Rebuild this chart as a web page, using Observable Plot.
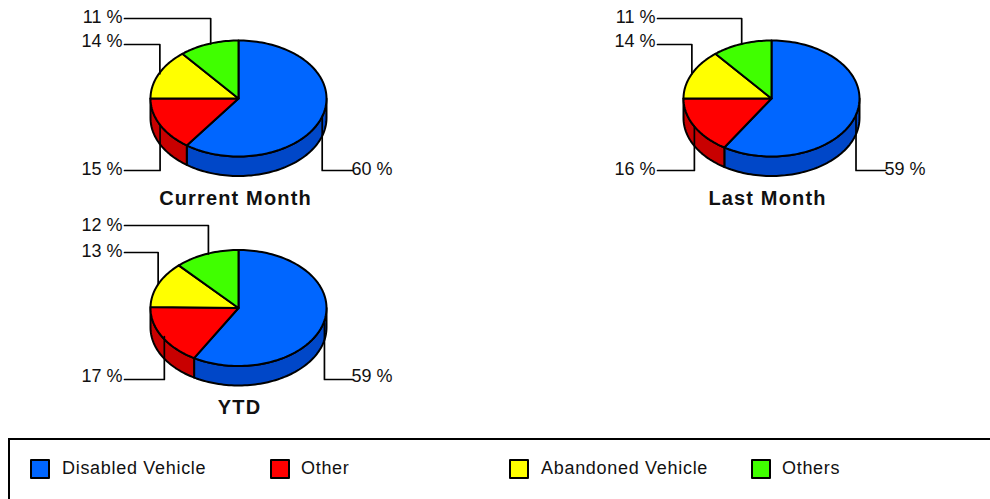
<!DOCTYPE html>
<html>
<head>
<meta charset="utf-8">
<script src="https://cdn.jsdelivr.net/npm/d3@7"></script>
<script src="https://cdn.jsdelivr.net/npm/@observablehq/plot@0.6"></script>
<style>
html,body{margin:0;padding:0;background:#fff;overflow:hidden;width:990px;height:499px}
body{font-family:"Liberation Sans",Arial,sans-serif}
#legend{position:relative;box-sizing:border-box;margin:2px 0 0 8px;width:982px;height:61px;border-top:2px solid #000;border-left:2px solid #000}
#legend .sw{position:absolute;top:19px;width:16px;height:16px;border:2px solid #000;border-radius:1px}
#legend .tx{position:absolute;top:18px;font-size:18px;line-height:20px;color:#111;letter-spacing:.7px;white-space:nowrap}
svg{display:block}
svg [font-weight="bold"]{letter-spacing:1.15px}
</style>
</head>
<body>
<div id="chart"></div>
<div id="legend"></div>
<script>
const categories = ["Disabled Vehicle", "Other", "Abandoned Vehicle", "Others"];
const topColors = ["#0066ff", "#ff0000", "#ffff00", "#40ff00"];
const sideColors = ["#0047c8", "#c80000", "#c8c800", "#2db300"];
const periods = ["Current Month", "Last Month", "YTD"];
const currentMonth = [60, 15, 14, 11];
const lastMonth = [59, 16, 14, 11];
const ytd = [59, 17, 13, 12];
const seriesValues = [currentMonth, lastMonth, ytd];

// layout of the three pies
const layout = [
  {cx: 238, cy: 98, lineY: [170, 170, 44, 18], textY: [169, 169, 41, 16.5], titleX: 235, titleY: 198, labelLeft: 122, labelRight: 351, nudge: [0, 0, 1, 2]},
  {cx: 771, cy: 98, lineY: [170, 170, 44, 18], textY: [169, 169, 41, 16.5], titleX: 767, titleY: 198, labelLeft: 655, labelRight: 884, nudge: [0, 0, 0, 0]},
  {cx: 238, cy: 307.5, lineY: [379, 379, 252, 225], textY: [376, 376, 251, 225], titleX: 239, titleY: 407, labelLeft: 122, labelRight: 351, nudge: [1, 2.5, 0, 2]}
];
const RX = 88, RY = 58, DEPTH = 19.5;
const pt = (c, a, dy = 0) => ({x: c.cx + RX * Math.sin(a), y: c.cy - RY * Math.cos(a) + dy});
const rad = p => p / 100 * 2 * Math.PI;
const arc = (c, a0, a1, dy = 0) => {
  const n = Math.max(2, Math.ceil(Math.abs(a1 - a0) / 0.03));
  return d3.range(n + 1).map(i => pt(c, a0 + (a1 - a0) * i / n, dy));
};

const marks = [];
const stroke = {stroke: "#000", strokeWidth: 2, strokeLinejoin: "round"};
seriesValues.forEach((values, k) => {
  const c = layout[k];
  const total = d3.sum(values);
  let cum = 0;
  const slices = values.map((v, i) => {
    const a0 = rad(cum / total * 100);
    cum += v;
    return {i, v, a0, a1: rad(cum / total * 100)};
  });
  // side walls: only the front half of the disc shows a wall
  slices.forEach(s => {
    const lo = Math.max(s.a0, Math.PI / 2), hi = Math.min(s.a1, 3 * Math.PI / 2);
    if (hi > lo) {
      const poly = [...arc(c, lo, hi), ...arc(c, hi, lo, DEPTH)];
      poly.push(poly[0]);
      marks.push(Plot.line(poly, {x: "x", y: "y", fill: sideColors[s.i], ...stroke}));
    }
  });
  // top faces
  slices.forEach(s => {
    const poly = [{x: c.cx, y: c.cy}, ...arc(c, s.a0, s.a1), {x: c.cx, y: c.cy}];
    marks.push(Plot.line(poly, {x: "x", y: "y", fill: topColors[s.i], ...stroke}));
  });
  // leaders and value labels
  slices.forEach(s => {
    const mid = (s.a0 + s.a1) / 2;
    const p = pt(c, mid);
    const right = Math.sin(mid) > 0;
    const ly = c.lineY[s.i];
    const ex = right ? c.labelRight + 1 : c.labelLeft + 2;
    const lx = p.x + c.nudge[s.i];
    marks.push(Plot.line([{x: lx, y: p.y}, {x: lx, y: ly}, {x: ex, y: ly}], {x: "x", y: "y", stroke: "#000", strokeWidth: 1.7}));
    marks.push(Plot.text([{x: right ? c.labelRight : c.labelLeft, y: c.textY[s.i], t: `${s.v} %`}], {
      x: "x", y: "y", text: "t", textAnchor: right ? "start" : "end",
      fontSize: 18, fill: "#111"
    }));
  });
  marks.push(Plot.text([{x: c.titleX, y: c.titleY, t: periods[k]}], {
    x: "x", y: "y", text: "t", fontSize: 20, fontWeight: "bold", fill: "#111"
  }));
});

const plot = Plot.plot({
  width: 990, height: 436,
  margin: 0,
  x: {domain: [0, 990], range: [0, 990], axis: null},
  y: {domain: [0, 436], range: [0, 436], axis: null},
  style: {fontFamily: '"Liberation Sans",Arial,sans-serif', background: "#fff"},
  marks
});
document.getElementById("chart").append(plot);

const legendX = [[20, 52], [260, 291], [499, 531], [741, 772]];
const lg = document.getElementById("legend");
categories.forEach((name, i) => {
  const sw = document.createElement("div");
  sw.className = "sw"; sw.style.left = legendX[i][0] + "px"; sw.style.background = topColors[i];
  const tx = document.createElement("div");
  tx.className = "tx"; tx.style.left = legendX[i][1] + "px"; tx.textContent = name;
  lg.append(sw, tx);
});
</script>
</body>
</html>
